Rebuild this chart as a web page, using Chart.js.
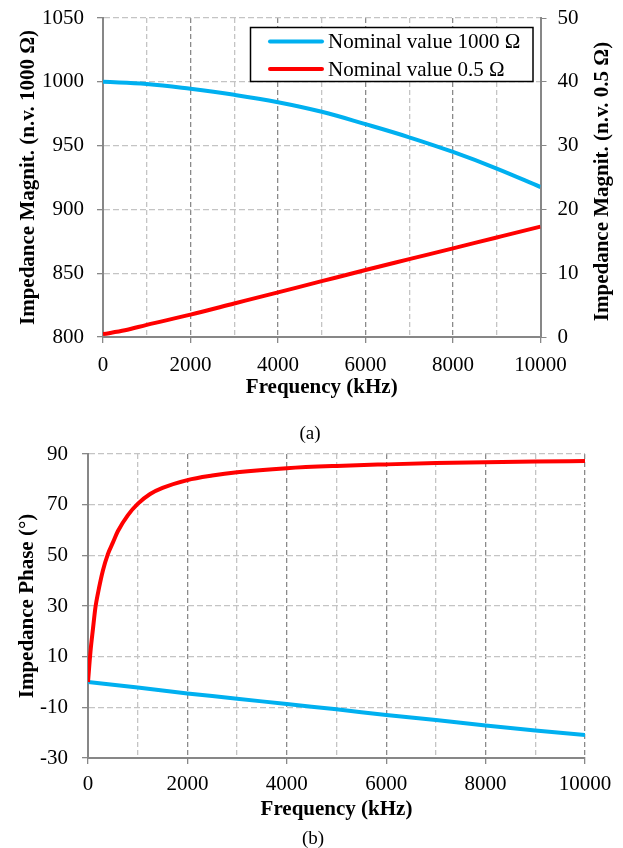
<!DOCTYPE html>
<html>
<head>
<meta charset="utf-8">
<script src="https://cdn.jsdelivr.net/npm/chart.js@4.4.1/dist/chart.umd.min.js"></script>
<style>
  body{margin:0;background:#fff;width:623px;height:848px;position:relative;overflow:hidden;font-family:'Liberation Serif','Times New Roman',serif;}
  canvas{position:absolute;left:0;}
  #cA{top:0;}
  #cB{top:440px;}
  .cap{position:absolute;font-size:19px;color:#000;transform:translate(-50%,-50%);white-space:nowrap;}
</style>
</head>
<body>
<canvas id="cA" width="623" height="410"></canvas>
<canvas id="cB" width="623" height="408"></canvas>
<div class="cap" style="left:310px;top:433px;">(a)</div>
<div class="cap" style="left:313px;top:838px;">(b)</div>
<script>
// (a) magnitude
const freqMag1000 = [0,1000,2000,3000,4000,5000,6000,7000,8000,9000,10000];
const mag1000 = [1000,998.3,994.5,989.8,984,976.5,966.8,956.5,945,932,917.5];
const freqMag05 = [0,500,1000,2000,3000,4000,5000,6000,7000,8000,9000,10000];
const mag05 = [0.45,1.05,1.9,3.5,5.25,7.0,8.75,10.5,12.2,13.9,15.6,17.3];

// (b) phase
const freqPh05 = [0,50,100,150,200,300,400,500,600,800,1000,1250,1500,2000,2500,3000,4000,5000,6000,7000,8000,9000,10000];
const phase05 = [0,12,21,29.5,35,44,50.5,55,59.5,65.8,70.3,74.2,76.6,79.7,81.5,82.8,84.4,85.3,85.9,86.4,86.7,87,87.2];
const freqPh1000 = [0,1000,2000,3000,4000,5000,6000,7000,8000,9000,10000];
const phase1000 = [0,-2.2,-4.5,-6.6,-8.7,-10.8,-13.0,-15.0,-17.2,-19.1,-20.9];

const xTicks = [0,2000,4000,6000,8000,10000];

const BLUE = '#00b0f0', RED = '#ff0000';
const FONT = "'Liberation Serif','Times New Roman',serif";
Chart.defaults.font.family = FONT;
Chart.defaults.color = '#000';

const pts = (xs, ys) => xs.map((x,i)=>({x:x, y:ys[i]}));

// legend box drawn inside the plot
const boxLegend = {
  id:'boxLegend',
  afterDraw(chart, args, o){
    const ctx = chart.ctx;
    ctx.save();
    ctx.fillStyle = '#fff';
    ctx.fillRect(o.x, o.y, o.w, o.h);
    ctx.lineWidth = 1.5;
    ctx.strokeStyle = '#000';
    ctx.strokeRect(o.x, o.y, o.w, o.h);
    ctx.font = "21px " + FONT;
    ctx.textBaseline = 'middle';
    ctx.fillStyle = '#000';
    chart.data.datasets.forEach((d,i)=>{
      const y = o.rows[i];
      ctx.strokeStyle = d.borderColor;
      ctx.lineWidth = 4;
      ctx.lineCap = 'round';
      ctx.beginPath(); ctx.moveTo(o.lx1, y); ctx.lineTo(o.lx2, y); ctx.stroke();
      ctx.fillText(d.label, o.tx, y+1);
    });
    ctx.restore();
  }
};

// right axis title reads bottom-to-top like the left one
const rightTitle = {
  id:'rightTitle',
  afterDraw(chart, args, o){
    if(!o.text) return;
    const ctx = chart.ctx, a = chart.chartArea;
    ctx.save();
    ctx.translate(o.x, (a.top + a.bottom)/2 + 4);
    ctx.rotate(-Math.PI/2);
    ctx.font = "bold 21px " + FONT;
    ctx.textAlign = 'center';
    ctx.textBaseline = 'middle';
    ctx.fillStyle = '#000';
    ctx.fillText(o.text, 0, 0);
    ctx.restore();
  }
};

const vGrid = c => (c.tick && c.tick.value % 2000 === 0) ? '#8a8a8a' : '#c4c4c4';
const xTickCol = c => (c.tick && c.tick.value % 2000 === 0) ? '#888' : 'rgba(0,0,0,0)';
const noPad = s => { s.paddingTop = 0; s.paddingBottom = 0; s.paddingLeft = 0; s.paddingRight = 0; };

function xScale(h, pad, titlePad){
  return {
    type:'linear', min:0, max:10000,
    afterFit: s => { s.height = h; noPad(s); },
    afterBuildTicks: s => { s.ticks = []; for(let v=0; v<=10000; v+=1000) s.ticks.push({value:v}); },
    ticks:{ font:{size:21}, padding:pad, maxRotation:0, autoSkip:false,
      callback: v => xTicks.includes(v) ? String(v) : '' },
    grid:{ color:vGrid, lineWidth:1.3, tickColor:xTickCol, tickLength:6 },
    border:{ color:'#878787', width:2, dash:[5,3] },
    title:{ display:true, text:'Frequency (kHz)', font:{size:21, weight:'bold'}, padding:{top:0,bottom:titlePad} }
  };
}

new Chart(document.getElementById('cA'), {
  type:'line',
  data:{ datasets:[
    { label:'Nominal value 1000 Ω', data:pts(freqMag1000, mag1000), borderColor:BLUE, borderWidth:4, pointRadius:0, tension:0.4, yAxisID:'y' },
    { label:'Nominal value 0.5 Ω', data:pts(freqMag05, mag05), borderColor:RED, borderWidth:4, pointRadius:0, cubicInterpolationMode:'monotone', yAxisID:'y2' }
  ]},
  options:{
    responsive:false, animation:false, devicePixelRatio:1,
    layout:{ padding:{ top:18, left:0, right:0, bottom:0 } },
    plugins:{ legend:{display:false}, tooltip:{enabled:false},
      boxLegend:{ x:250.5, y:27.5, w:282.5, h:54, rows:[41.5,69], lx1:270, lx2:322, tx:328 },
      rightTitle:{ text:'Impedance Magnit. (n.v. 0.5 Ω)', x:603 } },
    scales:{
      x: xScale(73, 10, 10),
      y:{ position:'left', min:800, max:1050,
        afterFit: s => { s.width = 103; noPad(s); },
        ticks:{ stepSize:50, font:{size:21}, padding:13, callback: v => String(v) },
        grid:{ color:'#c4c4c4', lineWidth:1.3, tickColor:'#888', tickLength:6 },
        border:{ color:'#878787', width:2, dash:[6,3] },
        title:{ display:true, text:'Impedance Magnit. (n.v. 1000 Ω)', font:{size:21, weight:'bold'}, padding:{top:16,bottom:0} } },
      y2:{ position:'right', min:0, max:50,
        afterFit: s => { s.width = 82.5; noPad(s); },
        ticks:{ stepSize:10, font:{size:21}, padding:11, callback: v => String(v) },
        grid:{ drawOnChartArea:false, color:'#888', tickLength:6 },
        border:{ color:'#878787', width:2 } }
    }
  },
  plugins:[boxLegend, rightTitle]
});

new Chart(document.getElementById('cB'), {
  type:'line',
  data:{ datasets:[
    { label:'Nominal value 0.5 Ω', data:pts(freqPh05, phase05), borderColor:RED, borderWidth:4, pointRadius:0, cubicInterpolationMode:'monotone' },
    { label:'Nominal value 1000 Ω', data:pts(freqPh1000, phase1000), borderColor:BLUE, borderWidth:4, pointRadius:0, tension:0.4 }
  ]},
  options:{
    responsive:false, animation:false, devicePixelRatio:1,
    layout:{ padding:{ top:14, left:0, right:38, bottom:0 } },
    plugins:{ legend:{display:false}, tooltip:{enabled:false},
      boxLegend:{ x:300, y:485, w:267, h:73, rows:[503.5,539.5], lx1:311, lx2:364, tx:368.5 } },
    scales:{
      x: xScale(90, 8, 26),
      y:{ position:'left', min:-30, max:90,
        afterFit: s => { s.width = 88; noPad(s); },
        ticks:{ stepSize:20, font:{size:21}, padding:14, callback: v => String(v) },
        grid:{ color:'#c4c4c4', lineWidth:1.3, tickColor:'#888', tickLength:6 },
        border:{ color:'#878787', width:2, dash:[6,3] },
        title:{ display:true, text:'Impedance Phase (°)', font:{size:21, weight:'bold'}, padding:{top:15,bottom:0} } }
    }
  },
  plugins:[boxLegend]
});
</script>
</body>
</html>
